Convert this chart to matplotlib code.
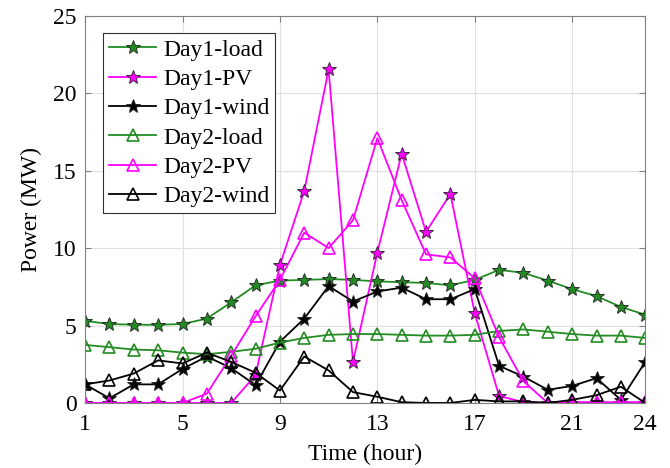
import matplotlib
matplotlib.use('Agg')
import matplotlib.pyplot as plt

plt.rcParams['font.family'] = ['Liberation Serif', 'DejaVu Serif']

hours = list(range(1, 25))

# values (MW)
day1_load = [5.3, 5.1, 5.05, 5.05, 5.1, 5.45, 6.5, 7.6, 7.9, 7.95, 8.0, 7.95,
             7.85, 7.8, 7.75, 7.6, 7.95, 8.6, 8.4, 7.9, 7.35, 6.9, 6.2, 5.7]
day1_pv = [0, 0, 0, 0, 0, 0, 0, 1.8, 8.9, 13.7, 21.55, 2.65,
           9.7, 16.1, 11.05, 13.5, 5.8, 0.45, 0.05, 0, 0, 0, 0, 0]
day1_wind = [1.2, 0.3, 1.2, 1.2, 2.2, 3.0, 2.25, 1.15, 3.95, 5.45, 7.55, 6.55,
             7.2, 7.45, 6.7, 6.7, 7.35, 2.4, 1.7, 0.85, 1.1, 1.6, 0.2, 2.65]
day2_load = [3.75, 3.6, 3.45, 3.4, 3.25, 3.15, 3.3, 3.5, 3.9, 4.2, 4.4, 4.45,
             4.45, 4.4, 4.35, 4.35, 4.4, 4.65, 4.75, 4.6, 4.45, 4.35, 4.35, 4.2]
day2_pv = [0, 0, 0, 0, 0, 0.6, 3.05, 5.6, 7.95, 11.0, 10.0, 11.8,
           17.1, 13.1, 9.6, 9.4, 8.05, 4.25, 1.4, 0, 0.05, 0.05, 0.05, 0.05]
day2_wind = [1.2, 1.45, 1.9, 2.75, 2.55, 3.25, 2.65, 1.95, 0.8, 3.0, 2.1, 0.7,
             0.4, 0.05, 0, 0, 0.2, 0.1, 0.1, 0, 0.2, 0.5, 1.05, 0]

green = '#228b22'
magenta = '#ff00ff'
black = 'black'

fig = plt.figure(figsize=(6.7, 4.68), dpi=100)
ax = fig.add_axes([0.127, 0.139, 0.836, 0.827])

series = [
    (day1_load, green, '*', 'Day1-load'),
    (day1_pv, magenta, '*', 'Day1-PV'),
    (day1_wind, black, '*', 'Day1-wind'),
    (day2_load, green, '^', 'Day2-load'),
    (day2_pv, magenta, '^', 'Day2-PV'),
    (day2_wind, black, '^', 'Day2-wind'),
]
for vals, col, mk, lab in series:
    if mk == '*':
        ax.plot(hours, vals, color=col, marker='*', markersize=10, linewidth=1.3,
                markerfacecolor=col, markeredgecolor='#202020', markeredgewidth=0.6,
                label=lab)
    else:
        ax.plot(hours, vals, color=col, marker='^', markersize=9, linewidth=1.3,
                markerfacecolor='none', markeredgecolor=col, markeredgewidth=1.2,
                label=lab)

ax.set_xlim(1, 24)
ax.set_ylim(0, 25)
ax.set_xticks([1, 5, 9, 13, 17, 21, 24])
ax.set_yticks([0, 5, 10, 15, 20, 25])
ax.grid(True, color='#e0e0e0', linewidth=0.8)
ax.set_axisbelow(True)
for s in ax.spines.values():
    s.set_color('#808080')
    s.set_linewidth(0.8)
ax.tick_params(direction='in', labelsize=17, colors='#808080', labelcolor='black',
               length=4, top=True, right=True)
ax.tick_params(axis='x', pad=8)
ax.tick_params(axis='y', pad=6)
ax.set_xlabel('Time (hour)', fontsize=17, labelpad=6)
ax.set_ylabel('Power (MW)', fontsize=17, labelpad=8)

leg = ax.legend(loc='upper left', fontsize=17, fancybox=False, framealpha=1,
                edgecolor='#303030', handlelength=2.0, borderpad=0.25,
                labelspacing=0.33, handletextpad=0.3, borderaxespad=0,
                bbox_to_anchor=(0.032, 0.955))
leg.get_frame().set_linewidth(0.8)

fig.savefig('out.png', dpi=100)
